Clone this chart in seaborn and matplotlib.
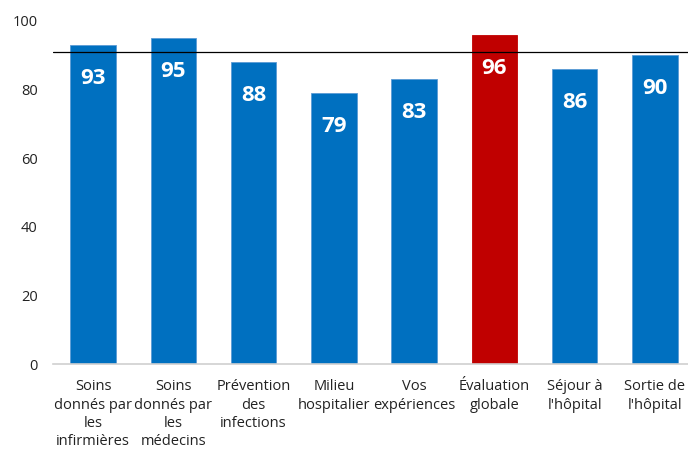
import matplotlib
matplotlib.use("Agg")
import matplotlib.pyplot as plt
import seaborn as sns
import pandas as pd

categories = ["Soins\ndonnés par\nles\ninfirmières", "Soins\ndonnés par\nles\nmédecins",
              "Prévention\ndes\ninfections", "Milieu\nhospitalier", "Vos\nexpériences",
              "Évaluation\nglobale", "Séjour à\nl'hôpital", "Sortie de\nl'hôpital"]
values = [93, 95, 88, 79, 83, 96, 86, 90]
reference_line = 91
highlight = "Évaluation\nglobale"

sns.set_theme(style="white")
plt.rcParams['font.family'] = ['Open Sans', 'DejaVu Sans']

df = pd.DataFrame({"cat": categories, "val": values})
palette = {c: ("#C00000" if c == highlight else "#0070C0") for c in categories}

fig = plt.figure(figsize=(6.88, 4.53), dpi=100)
ax = fig.add_axes([53/688, 1 - 364/453, (695 - 53)/688, (364 - 21)/453])
sns.barplot(data=df, x="cat", y="val", hue="cat", palette=palette, legend=False,
            width=0.57, ax=ax, saturation=1, edgecolor="#5B9BD5", linewidth=0.6)
for p, c in zip(ax.patches, categories):
    if c == highlight:
        p.set_edgecolor("#C00000")

ax.set_ylim(0, 100)
ax.set_xlim(-0.5, 7.5)
ax.set_yticks([0, 20, 40, 60, 80, 100])
ax.tick_params(axis="y", labelsize=10.5, colors="#222222", length=0, pad=11)
ax.tick_params(axis="x", labelsize=10.5, colors="#222222", length=0, pad=11)
ax.set_xlabel("")
ax.set_ylabel("")
for s in ["top", "right", "left"]:
    ax.spines[s].set_visible(False)
ax.spines["bottom"].set_color("#D0D0D0")
ax.spines["bottom"].set_linewidth(1.2)
for lbl in ax.get_xticklabels():
    lbl.set_linespacing(1.3)

for i, v in enumerate(values):
    ax.annotate(f"{v}", (i, v), xytext=(0, -24), textcoords="offset points",
                ha="center", va="center", color="white", fontsize=16, fontweight="bold")

ax.axhline(reference_line, color="black", linewidth=0.9, zorder=5)

fig.savefig("out.png", dpi=100)
